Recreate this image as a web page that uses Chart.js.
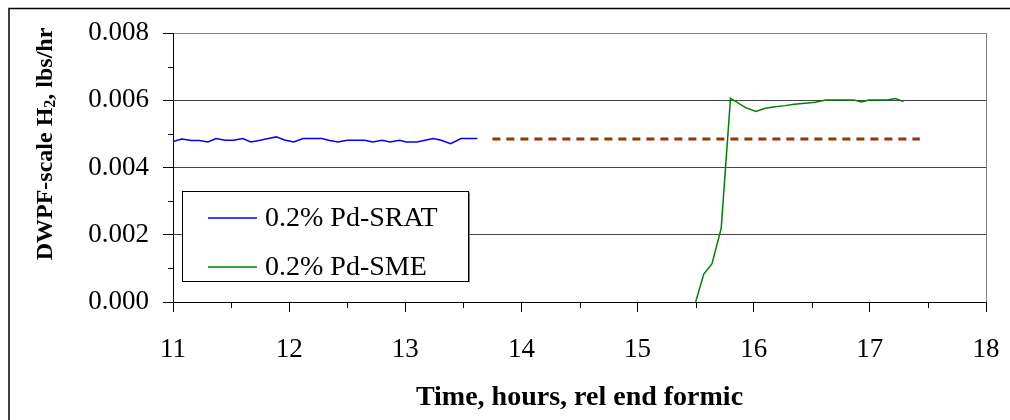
<!DOCTYPE html>
<html>
<head>
<meta charset="utf-8">
<script src="https://cdn.jsdelivr.net/npm/chart.js@4"></script>
<style>
  html, body { margin: 0; padding: 0; background: #fff; overflow: hidden; }
  #wrap { width: 1010px; height: 420px; position: relative; }
</style>
</head>
<body>
<div id="wrap"><canvas id="chart"></canvas></div>
<script>
// series
const sratTime = [11.00, 11.075, 11.16, 11.23, 11.30, 11.37, 11.45, 11.52, 11.60, 11.67, 11.75, 11.82,
    11.89, 11.96, 12.04, 12.12, 12.21, 12.28, 12.35, 12.42, 12.50, 12.57, 12.65, 12.72,
    12.80, 12.87, 12.95, 13.01, 13.10, 13.17, 13.24, 13.31, 13.39, 13.48, 13.55, 13.62];
const sratH2 = [0.00477, 0.00485, 0.00480, 0.00480, 0.00476, 0.00486, 0.00481, 0.00481, 0.00486, 0.00476, 0.00481, 0.00486,
    0.00491, 0.00482, 0.00476, 0.00486, 0.00486, 0.00486, 0.00480, 0.00476, 0.00481, 0.00481, 0.00481, 0.00476,
    0.00481, 0.00476, 0.00481, 0.00476, 0.00476, 0.00481, 0.00486, 0.00481, 0.00471, 0.00486, 0.00486, 0.00486];

const smeTime = [15.50, 15.57, 15.64, 15.72, 15.80, 15.93, 16.02, 16.10, 16.17, 16.27, 16.35, 16.44,
    16.53, 16.62, 16.70, 16.78, 16.86, 16.93, 16.99, 17.07, 17.15, 17.22, 17.29];
const smeH2 = [0.00000, 0.00083, 0.00113, 0.00219, 0.00606, 0.00578, 0.00567, 0.00576, 0.00580, 0.00584, 0.00588, 0.00591,
    0.00594, 0.00601, 0.00601, 0.00601, 0.00601, 0.00595, 0.00601, 0.00601, 0.00601, 0.00605, 0.00596];

const refTime = [13.75, 17.43];
const refH2 = [0.00485, 0.00485];

const seriesLabels = ['0.2% Pd-SRAT', '0.2% Pd-SME'];
const seriesColors = ['#0000ff', '#008000'];

const xMin = 11, xMax = 18, xStep = 1;
const yMin = 0, yMax = 0.008, yStep = 0.002;
const xMinorTicks = [11.5, 12.5, 13.5, 14.5, 15.5, 16.5, 17.5];
const yMinorTicks = [0.001, 0.003, 0.005, 0.007];

function toPoints(xs, ys) {
    return xs.map(function (x, i) { return { x: x, y: ys[i] }; });
}

const serif = '"Liberation Serif", "Times New Roman", serif';

// outer frame, minor ticks, y title and legend box
const decorPlugin = {
    id: 'decor',
    beforeDraw: function (chart) {
        const ctx = chart.ctx;
        ctx.save();
        ctx.fillStyle = '#fff';
        ctx.fillRect(0, 0, chart.width, chart.height);
        ctx.strokeStyle = '#000';
        ctx.lineWidth = 1.5;
        ctx.strokeRect(9, 8.5, chart.width + 20, chart.height + 20);
        ctx.restore();
    },
    afterDraw: function (chart) {
        const ctx = chart.ctx;
        const xs = chart.scales.x;
        const ys = chart.scales.y;
        const area = chart.chartArea;
        ctx.save();

        // minor ticks
        ctx.strokeStyle = '#000';
        ctx.lineWidth = 1;
        ctx.beginPath();
        yMinorTicks.forEach(function (v) {
            const py = Math.round(ys.getPixelForValue(v)) + 0.5;
            ctx.moveTo(area.left - 5, py);
            ctx.lineTo(area.left, py);
        });
        xMinorTicks.forEach(function (v) {
            const px = Math.round(xs.getPixelForValue(v)) + 0.5;
            ctx.moveTo(px, area.bottom);
            ctx.lineTo(px, area.bottom + 6);
        });
        ctx.stroke();

        // y axis title with subscript
        ctx.save();
        ctx.translate(46, 144);
        ctx.rotate(-Math.PI / 2);
        ctx.fillStyle = '#000';
        ctx.textBaseline = 'middle';
        const big = 'bold 24px ' + serif;
        const small = 'bold 16px ' + serif;
        const parts = [['DWPF-scale H', big, 0], ['2', small, 5], [', lbs/hr', big, 0]];
        let total = 0;
        parts.forEach(function (p) { ctx.font = p[1]; total += ctx.measureText(p[0]).width; });
        let cx = -total / 2;
        parts.forEach(function (p) {
            ctx.font = p[1];
            ctx.fillText(p[0], cx, p[2]);
            cx += ctx.measureText(p[0]).width;
        });
        ctx.restore();

        // legend
        const bx = 182.5, by = 191.5, bw = 286, bh = 90;
        ctx.fillStyle = '#fff';
        ctx.fillRect(bx, by, bw, bh);
        ctx.strokeStyle = '#000';
        ctx.lineWidth = 1;
        ctx.strokeRect(bx, by, bw, bh);
        ctx.strokeStyle = '#808080';
        ctx.beginPath();
        ctx.moveTo(bx + bw + 1, by + 1);
        ctx.lineTo(bx + bw + 1, by + bh + 1);
        ctx.stroke();

        const entries = chart.data.datasets.filter(function (d) { return !d.noLegend; });
        ctx.font = '28px ' + serif;
        ctx.textBaseline = 'middle';
        entries.forEach(function (d, i) {
            const ly = 218 + i * 49;
            ctx.strokeStyle = d.borderColor;
            ctx.lineWidth = 1.5;
            ctx.beginPath();
            ctx.moveTo(208, ly);
            ctx.lineTo(257, ly);
            ctx.stroke();
            ctx.fillStyle = '#000';
            ctx.fillText(d.label, 265, ly + 1);
        });
        ctx.restore();
    }
};

new Chart(document.getElementById('chart'), {
    type: 'line',
    data: {
        datasets: [
            {
                label: seriesLabels[0],
                data: toPoints(sratTime, sratH2),
                borderColor: seriesColors[0],
                borderWidth: 1.5,
                pointRadius: 0,
                tension: 0,
            },
            {
                label: seriesLabels[1],
                data: toPoints(smeTime, smeH2),
                borderColor: seriesColors[1],
                borderWidth: 1.5,
                pointRadius: 0,
                tension: 0,
            },
            {
                label: 'reference',
                noLegend: true,
                data: toPoints(refTime, refH2),
                borderColor: '#993300',
                borderWidth: 3,
                borderDash: [8, 6],
                pointRadius: 0,
            }
        ]
    },
    options: {
        responsive: true,
        maintainAspectRatio: false,
        animation: false,
        devicePixelRatio: 1,
        layout: { padding: { top: 33, right: 24, left: 0, bottom: 0 } },
        scales: {
            x: {
                type: 'linear',
                min: xMin,
                max: xMax,
                afterFit: function (scale) {
                    scale.height = 118;
                    scale.paddingLeft = 0;
                    scale.paddingRight = 0;
                },
                ticks: {
                    stepSize: xStep,
                    padding: 22,
                    color: '#000',
                    font: { family: serif, size: 27 },
                    maxRotation: 0,
                },
                grid: {
                    drawOnChartArea: true,
                    color: function (c) { return c.tick && c.tick.value === xMax ? '#808080' : 'rgba(0,0,0,0)'; },
                    tickColor: '#000',
                    tickLength: 10,
                },
                border: { color: '#000', width: 1 },
                title: {
                    display: true,
                    text: 'Time, hours, rel end formic',
                    color: '#000',
                    font: { family: serif, size: 28, weight: 'bold' },
                    padding: { top: 0, bottom: 5 },
                }
            },
            y: {
                min: yMin,
                max: yMax,
                afterFit: function (scale) { scale.width = 173; },
                ticks: {
                    stepSize: yStep,
                    padding: 14,
                    color: '#000',
                    font: { family: serif, size: 27 },
                    callback: function (v) { return v.toFixed(3); },
                },
                grid: {
                    color: function (c) {
                        if (!c.tick) return '#444';
                        if (c.tick.value === yMin) return 'rgba(0,0,0,0)';
                        if (c.tick.value === yMax) return '#808080';
                        return '#444';
                    },
                    tickColor: '#000',
                    tickLength: 10,
                },
                border: { color: '#000', width: 1 },
            }
        },
        plugins: {
            legend: { display: false },
            tooltip: { enabled: false }
        }
    },
    plugins: [decorPlugin]
});
</script>
</body>
</html>
